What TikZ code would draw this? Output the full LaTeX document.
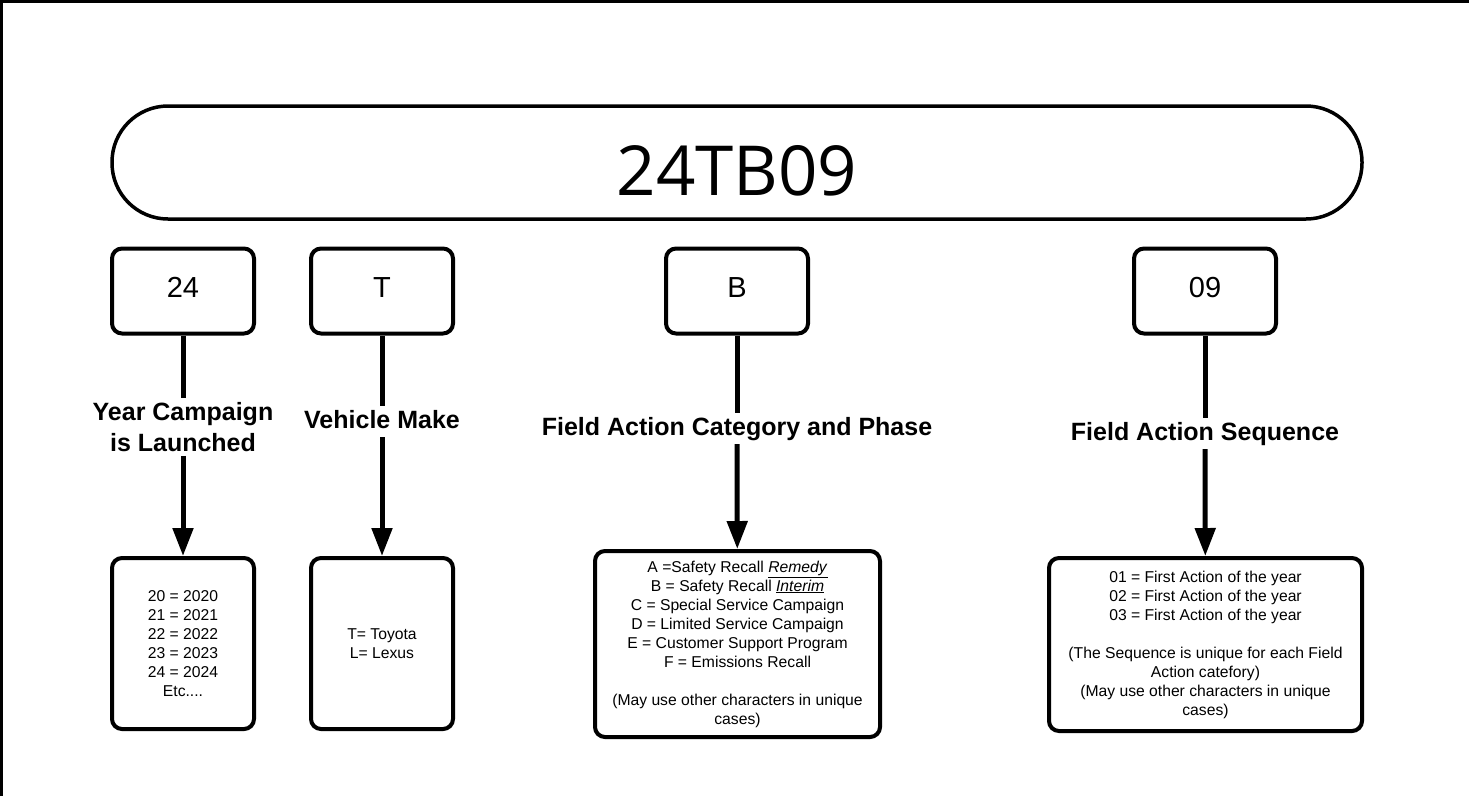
\documentclass[tikz,border=0pt]{standalone}
\usepackage{fontspec}
\setmainfont{Liberation Sans}
\newfontfamily\titlefont{Open Sans}
\usetikzlibrary{arrows.meta}
\begin{document}
\begin{tikzpicture}[x=1pt,y=-1pt,
  codebox/.style={draw, line width=4pt, rounded corners=10pt, minimum width=142pt, minimum height=85pt, inner sep=0pt, text height=21pt, text depth=9pt, font=\fontsize{29}{34}\selectfont},
  info/.style={draw, line width=4pt, rounded corners=10pt, inner sep=0pt, align=center, font=\fontsize{15.7}{19}\selectfont},
  lbl/.style={font=\bfseries\fontsize{25}{31}\selectfont, align=center, inner sep=4pt},
  lblone/.style={lbl, text height=18pt, text depth=5pt},
  conn/.style={line width=5pt},
  arr/.style={line width=5pt, -{Triangle[length=28pt,width=20pt]}}]
\useasboundingbox (0,0) rectangle (1469,796);
% frame
\draw[line width=3pt] (1.5,796) -- (1.5,1.5) -- (1469,1.5);
% pill
\node[draw, line width=3.5pt, rounded corners=56pt, minimum width=1250pt, minimum height=113pt, inner sep=0pt] (pill) at (737,162.5) {};
\node[font=\titlefont\fontsize{69}{80}\selectfont, inner sep=0pt] (ttl) at (737,171) {24TB09};
% top boxes
\node[codebox] (t1) at (183,291) {24};
\node[codebox] (t2) at (382,291) {T};
\node[codebox] (t3) at (737,291) {B};
\node[codebox] (t4) at (1205,291) {09};
% labels
\node[lbl] (l1) at (183,427) {Year Campaign\\is Launched};
\node[lblone] (l2) at (382,421.5) {Vehicle Make};
\node[lblone] (l3) at (737,428.5) {Field Action Category and Phase};
\node[lblone] (l4) at (1205,433.5) {Field Action Sequence};
% bottom boxes
\node[info, minimum width=142pt, minimum height=171pt] (b1) at (183,643.5)
  {20 = 2020\\21 = 2021\\22 = 2022\\23 = 2023\\24 = 2024\\Etc....};
\node[info, minimum width=142pt, minimum height=171pt] (b2) at (382,643.5)
  {T= Toyota\\L= Lexus};
\node[info, minimum width=285pt, minimum height=186pt] (b3) at (737.5,644)
  {A =Safety Recall \underline{\textit{Remedy}}\\
   B = Safety Recall \underline{\textit{Interim}}\\
   C = Special Service Campaign\\
   D = Limited Service Campaign\\
   E = Customer Support Program\\
   F = Emissions Recall\\[19pt]
   (May use other characters in unique\\cases)};
\node[info, minimum width=313pt, minimum height=173pt] (b4) at (1205.5,644.5)
  {01 = First Action of the year\\
   02 = First Action of the year\\
   03 = First Action of the year\\[19pt]
   (The Sequence is unique for each Field\\
   Action catefory)\\
   (May use other characters in unique\\cases)};
% connectors
\draw[conn] (t1) -- (l1); \draw[arr] (l1) -- (b1);
\draw[conn] (t2) -- (l2); \draw[arr] (l2) -- (b2);
\draw[conn] (t3) -- (l3); \draw[arr] (l3) -- (b3);
\draw[conn] (t4) -- (l4); \draw[arr] (l4) -- (b4);
\end{tikzpicture}
\end{document}
